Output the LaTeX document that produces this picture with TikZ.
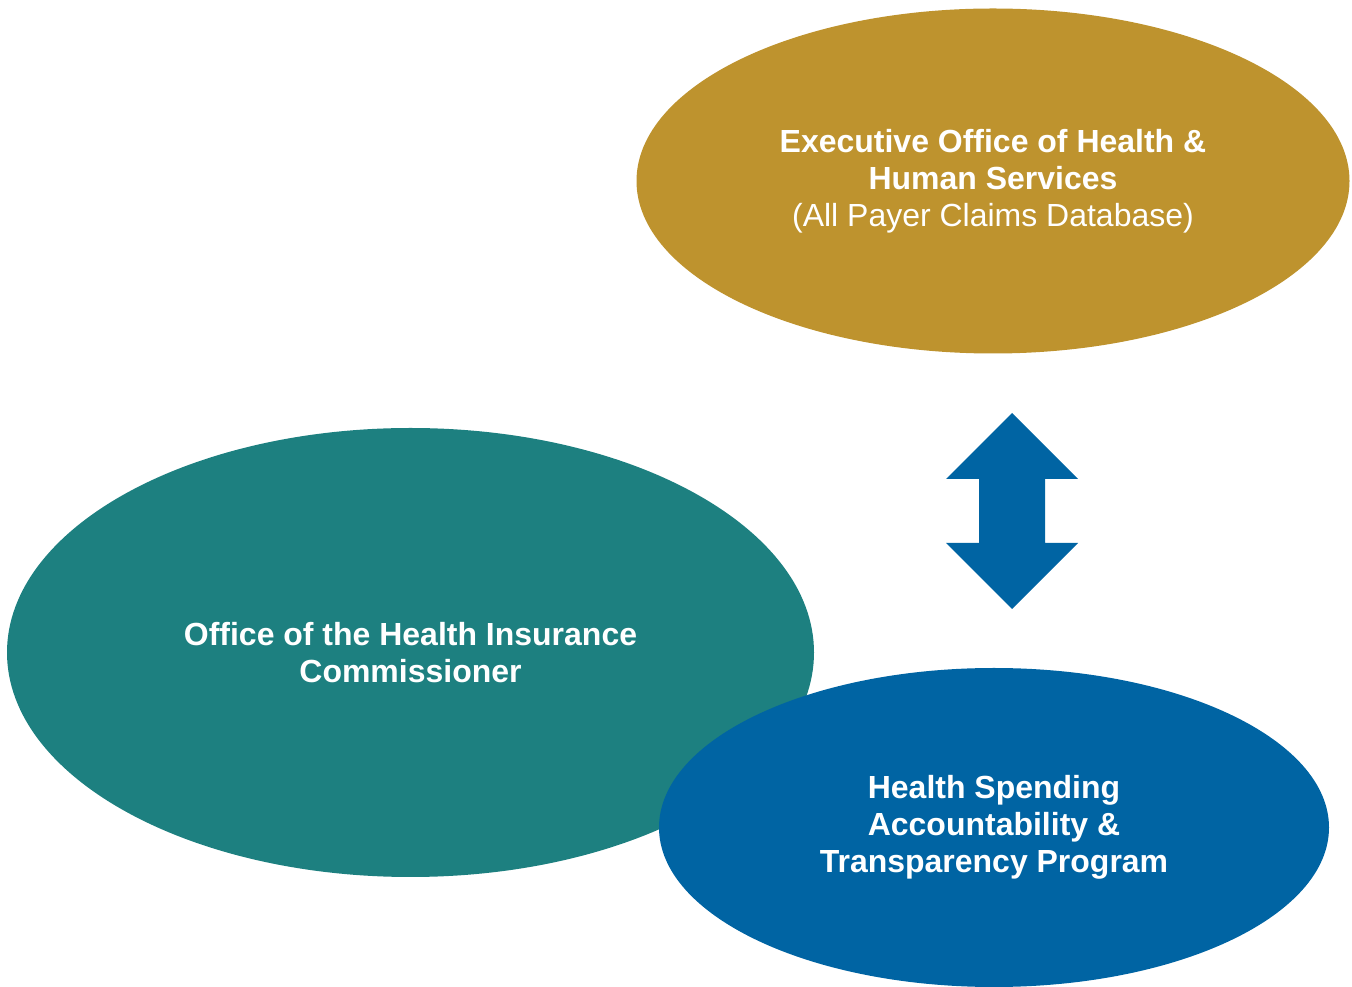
\documentclass[tikz,border=0pt]{standalone}
\usepackage{fontspec}
\setmainfont{Liberation Sans}
\usetikzlibrary{shapes.geometric}

\begin{document}
\begin{tikzpicture}[
    office/.style={
        ellipse,
        inner sep=0pt,
        align=center,
        text=white,
        font=\fontsize{18.2}{21.1}\selectfont
    }
]

\definecolor{ohicgold}{RGB}{190,147,46}
\definecolor{ohicteal}{RGB}{29,128,128}
\definecolor{ohicblue}{RGB}{0,100,163}

\useasboundingbox (0,0) rectangle (27.04,19.74);

\node[office, fill=ohicgold, minimum width=14.26cm, minimum height=6.9cm] (eohhs) at (19.86,16.12)
    {\textbf{Executive Office of Health \&}\\\textbf{Human Services}\\(All Payer Claims Database)};

\node[office, fill=ohicteal, minimum width=16.14cm, minimum height=8.98cm] (ohic) at (8.21,6.69)
    {\textbf{Office of the Health Insurance}\\\textbf{Commissioner}};

\node[office, fill=ohicblue, minimum width=13.4cm, minimum height=6.38cm] (hsatp) at (19.88,3.19)
    {\textbf{Health Spending}\\\textbf{Accountability \&}\\\textbf{Transparency Program}};

% two-way arrow between the top and bottom offices
\coordinate (mid) at (20.24,9.52);
\fill[ohicblue] ([yshift=1.96cm]mid) -- ++(1.32,-1.32) -- ++(-0.66,0) -- ++(0,-1.28)
    -- ++(0.66,0) -- ++(-1.32,-1.32) -- ++(-1.32,1.32) -- ++(0.66,0) -- ++(0,1.28)
    -- ++(-0.66,0) -- cycle;

\end{tikzpicture}
\end{document}
